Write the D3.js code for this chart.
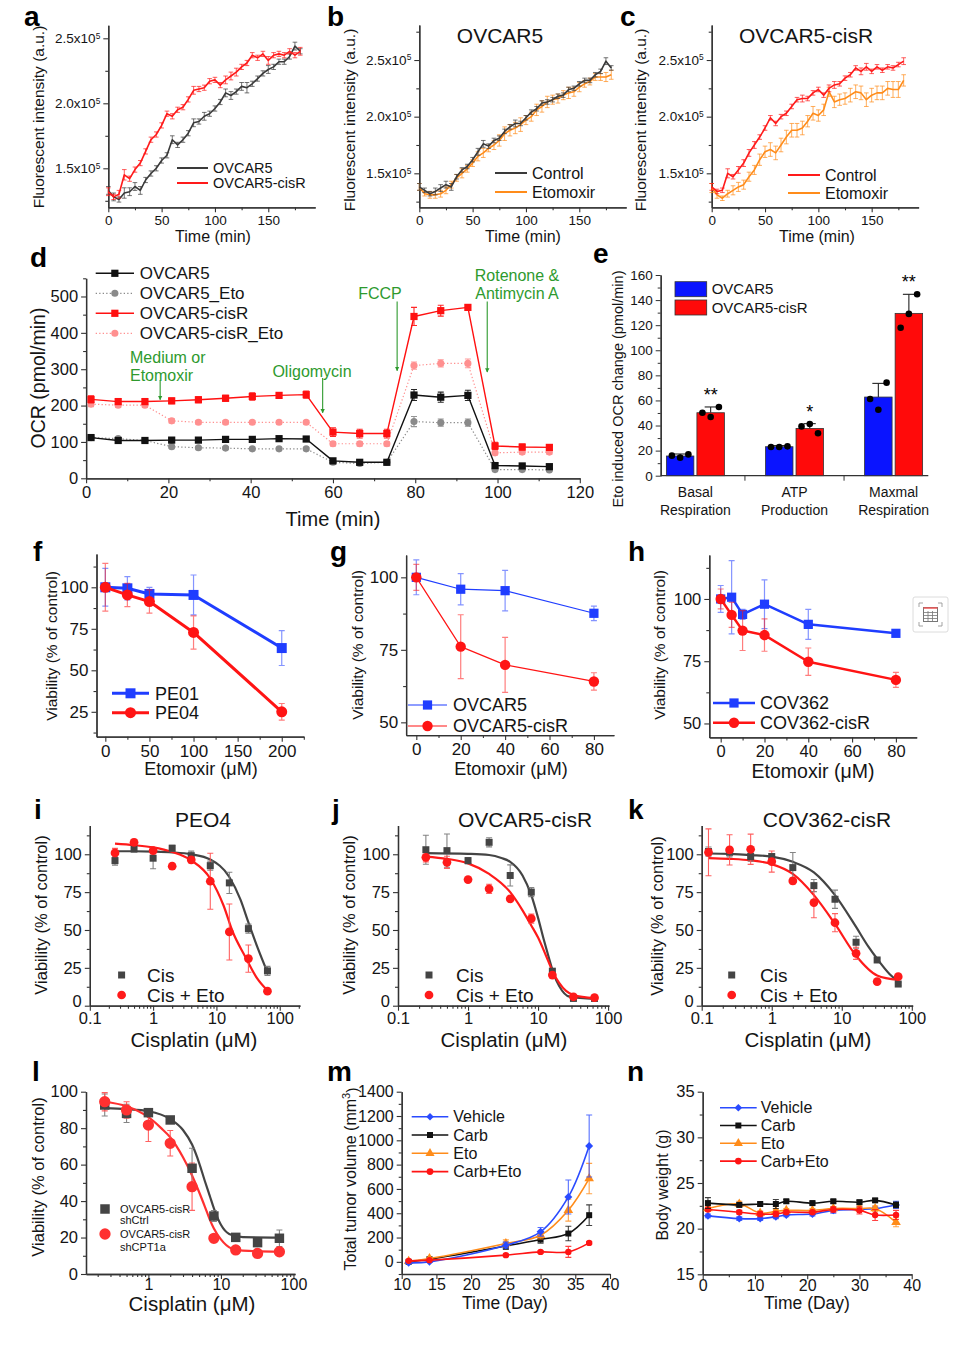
<!DOCTYPE html>
<html>
<head>
<meta charset="utf-8">
<script src="https://cdn.jsdelivr.net/npm/d3@7"></script>
<style>
  body { margin: 0; background: #fff; }
</style>
</head>
<body>
<script>
// ---------- data ----------

// a-c : fluorescence over time, in units of 1e5 a.u.
var fluoTime = [0,5,10,15,20,25,30,35,40,45,50,55,60,65,70,75,80,85,90,95,100,105,110,115,120,125,130,135,140,145,150,155,160,165,170,175,180];
var aOVCAR5 = [1.33,1.28,1.26,1.31,1.32,1.36,1.33,1.41,1.46,1.50,1.56,1.60,1.72,1.68,1.72,1.77,1.85,1.86,1.90,1.92,1.96,2.01,2.08,2.06,2.09,2.13,2.12,2.15,2.19,2.23,2.26,2.28,2.32,2.32,2.36,2.44,2.40];
var aOVCAR5Err = [0.03,0.03,0.02,0.04,0.03,0.03,0.03,0.02,0.02,0.02,0.02,0.02,0.03,0.02,0.02,0.02,0.03,0.02,0.03,0.02,0.02,0.02,0.03,0.03,0.02,0.03,0.04,0.02,0.02,0.02,0.03,0.02,0.02,0.02,0.02,0.03,0.02];
var aCisR = [1.32,1.28,1.30,1.45,1.42,1.49,1.54,1.63,1.72,1.76,1.83,1.92,1.90,1.95,1.97,2.03,2.10,2.11,2.12,2.17,2.18,2.14,2.18,2.21,2.24,2.28,2.31,2.37,2.35,2.38,2.33,2.37,2.38,2.37,2.40,2.37,2.40];
var aCisRErr = [0.03,0.02,0.03,0.04,0.02,0.02,0.02,0.02,0.02,0.02,0.02,0.02,0.02,0.02,0.02,0.02,0.03,0.02,0.02,0.02,0.02,0.02,0.03,0.03,0.03,0.02,0.02,0.02,0.02,0.02,0.03,0.02,0.02,0.02,0.02,0.02,0.03];
var bControl = [1.38,1.35,1.32,1.34,1.37,1.40,1.38,1.47,1.53,1.56,1.62,1.69,1.76,1.74,1.79,1.81,1.87,1.91,1.94,1.94,1.99,2.04,2.07,2.12,2.13,2.15,2.18,2.19,2.24,2.25,2.29,2.32,2.32,2.37,2.40,2.49,2.43];
var bControlErr = [0.03,0.02,0.02,0.03,0.03,0.03,0.03,0.02,0.02,0.02,0.02,0.03,0.03,0.02,0.02,0.02,0.02,0.02,0.03,0.02,0.02,0.02,0.02,0.02,0.02,0.02,0.02,0.02,0.02,0.02,0.02,0.02,0.02,0.02,0.02,0.03,0.02];
var bEto = [1.38,1.32,1.31,1.31,1.32,1.35,1.40,1.46,1.50,1.54,1.59,1.65,1.68,1.72,1.75,1.79,1.85,1.88,1.90,1.93,1.97,2.00,2.06,2.09,2.13,2.15,2.16,2.19,2.21,2.22,2.26,2.29,2.31,2.35,2.35,2.35,2.37];
var bEtoErr = [0.03,0.02,0.03,0.03,0.03,0.03,0.03,0.03,0.04,0.03,0.03,0.04,0.04,0.03,0.04,0.05,0.06,0.05,0.05,0.06,0.04,0.04,0.05,0.05,0.05,0.04,0.04,0.04,0.05,0.04,0.04,0.03,0.03,0.03,0.03,0.04,0.04];
var cControl = [1.38,1.34,1.35,1.50,1.47,1.53,1.59,1.68,1.75,1.82,1.90,1.99,1.94,2.00,2.03,2.09,2.15,2.16,2.16,2.21,2.24,2.19,2.25,2.28,2.29,2.34,2.37,2.43,2.40,2.44,2.40,2.44,2.41,2.44,2.43,2.46,2.49];
var cControlErr = [0.03,0.02,0.02,0.04,0.02,0.03,0.03,0.03,0.03,0.02,0.02,0.02,0.02,0.02,0.02,0.02,0.02,0.03,0.02,0.02,0.02,0.02,0.03,0.03,0.02,0.02,0.02,0.02,0.03,0.03,0.02,0.02,0.02,0.02,0.02,0.02,0.03];
var cEto = [1.37,1.31,1.28,1.32,1.35,1.38,1.40,1.47,1.53,1.62,1.69,1.71,1.68,1.75,1.82,1.88,1.88,1.90,1.96,2.03,2.01,2.06,2.22,2.13,2.15,2.16,2.19,2.22,2.21,2.15,2.19,2.21,2.21,2.25,2.24,2.24,2.32];
var cEtoErr = [0.04,0.03,0.02,0.03,0.04,0.04,0.04,0.04,0.04,0.05,0.05,0.06,0.06,0.06,0.06,0.06,0.06,0.06,0.05,0.06,0.05,0.05,0.04,0.05,0.05,0.05,0.06,0.06,0.06,0.06,0.06,0.06,0.06,0.06,0.07,0.07,0.05];

// d : Seahorse OCR
var dTime = [1.2,7.8,14.3,20.8,27.3,33.9,40.4,46.9,53.5,60.0,66.5,73.1,79.7,86.2,92.8,99.4,106.0,112.6];
var dNames = ["OVCAR5","OVCAR5_Eto","OVCAR5-cisR","OVCAR5-cisR_Eto"];
var dOVCAR5 = [112,104,104,105,105,107,107,109,108,48,44,44,229,223,228,35,34,32];
var dOVCAR5Err = [6,5,5,4,4,4,4,4,5,4,4,4,15,14,14,5,4,4];
var dOVCAR5Eto = [112,109,104,87,84,83,81,81,81,44,41,44,156,153,153,24,24,23];
var dOVCAR5EtoErr = [5,4,4,4,4,4,4,4,4,4,4,4,14,10,10,3,3,3];
var dCisR = [217,211,211,213,216,220,225,228,230,127,123,123,445,461,470,89,86,85];
var dCisRErr = [10,7,7,8,8,8,10,8,10,12,12,12,25,15,8,10,8,8];
var dCisREto = [204,201,201,158,154,154,154,154,154,95,95,95,310,316,316,70,72,72];
var dCisREtoErr = [7,6,6,6,5,5,5,5,5,6,6,6,10,10,12,6,6,6];

// e : Eto induced OCR change
var eGroups = ["Basal Respiration","ATP Production","Maxmal Respiration"];
var eSeries = ["OVCAR5","OVCAR5-cisR"];
var eOVCAR5 = [15.7,23.1,62.7];
var eOVCAR5Err = [1.6,0.9,10.9];
var eOVCAR5Pts = [[16,14.4,17],[22.9,22.9,23.4],[61.1,52.6,74.2]];
var eCisR = [50.2,37.7,129.4];
var eCisRErr = [4.6,3.8,15.2];
var eCisRPts = [[50.2,46.8,54.8],[39.3,41.2,33.8],[118,129,144.6]];
var eStars = ["**","*","**"];

// f-h : viability vs etomoxir
var fConc = [0,25,50,100,200];
var fPE01 = [100,99.4,96,95.4,63.4];
var fPE01Err = [11.4,7,4,12,10.5];
var fPE04 = [100,95.4,91.4,72.8,25];
var fPE04Err = [14.4,7,7,10,5];
var gConc = [0,20,40,80];
var gOVCAR5 = [100,95.9,95.4,87.6];
var gOVCAR5Err = [6,5.4,7,2.5];
var gCisR = [100,76.1,69.8,64.1];
var gCisRErr = [4.5,11,9.5,3];
var hConc = [0,5,10,20,40,80];
var hCOV362 = [100,100.7,93.8,97.9,89.8,86.2];
var hCOV362Err = [5.4,14.7,2,9.8,6,1];
var hCisR = [100,93.6,87.3,85.5,74.8,67.5];
var hCisRErr = [4,5,8,6.5,5.5,3];

// i-l : viability vs cisplatin (points and fitted curves)
var cisConc = [0.25,0.5,1,2,4,8,16,32,64];
var iCis = [95.8,103.5,97.4,104,99.1,92.5,81.1,50.9,23.0];
var iCisErr = [3,2,7,2,3,3,7,3,3];
var iCisEto = [100.9,107.9,102.4,92.1,96.3,82.2,48.7,31.1,9.6];
var iCisEtoErr = [3,2,2,2,2,18.5,18.5,9,1];
var iFitCisX = [0.25,0.5,1,2,4,8,16,24,32,45,64];
var iFitCisY = [102,102,101.8,101.3,100,96.5,85,70,55,38,22];
var iFitEtoX = [0.25,0.5,1,2,4,8,13,18,28,44,64];
var iFitEtoY = [107,106,104.5,101.5,96,84,66,49,33,18,10];

var jCis = [103,102.4,95.8,107.9,86,75,22.8,4.8,4.8];
var jCisErr = [9.6,11,2,3,7,3,1,1,1];
var jCisEto = [98,94.7,83.3,77.2,70.6,57.5,20.2,5.9,5.3];
var jCisEtoErr = [3,4,1,3,1,3,1,1,1];
var jFitCisX = [0.25,1,2,3,4,6,8,10,12,14,17,20,28,64];
var jFitCisY = [100.8,100.3,99.5,97.5,95,86,73,58,44,33,20,13,6,4.5];
var jFitEtoX = [0.25,0.5,1,2,4,6,8,10,13,16,20,32,64];
var jFitEtoY = [98.5,97,94,87,75,63,53,45,33,23,15,7,5];

var kConc = [0.125,0.25,0.5,1,2,4,8,16,32,64];
var kCis = [101.8,101.3,98.5,98.5,91.2,79.3,70.3,41.9,30.2,14.3];
var kCisErr = [3,3,3,2,10,4,6,4,1,1];
var kCisEto = [101.3,102.9,103.3,95.2,82.4,68.1,54.8,34.6,15.9,19.2];
var kCisEtoErr = [15.5,10,10,7,2,10,6,4,1,1];
var kFitCisX = [0.125,0.25,0.5,1,2,4,8,16,24,32,48,64];
var kFitCisY = [100.5,100.2,99.5,98.5,95,88,73,52,39,31,21,16];
var kFitEtoX = [0.125,0.25,0.5,1,2,4,8,16,32,64];
var kFitEtoY = [97.5,97,96,93.5,87,73,54,33,20,17];

var lShCtrl = [92.7,88.1,88.5,84.5,58,31.8,20.1,17.2,19.6];
var lShCtrlErr = [6,5,1,1,11,3,1,2,4.5];
var lShCPT = [94.5,90,81.7,71.7,47.9,19.6,13.2,11.3,12.2];
var lShCPTErr = [5,4.5,9,7,13,2,1,1,1];
var lFitCtrlX = [0.25,0.5,1,2,3,4,5,6,7,8,10,13,20,64];
var lFitCtrlY = [91,90.5,89.3,85,79,71,61,51,43,36,27,22,20.2,20];
var lFitCPTX = [0.25,0.5,1,1.5,2,3,4,5,6,7,8,10,14,20,64];
var lFitCPTY = [94.5,92,86,80,75,64,54,45,37,30,25,19,14,12.8,12.2];

// m : tumor volume, n : body weight
var mDays = [11,14,25,30,34,37];
var mVehicle = [-8,0,137,247,534,953];
var mVehicleErr = [5,5,25,35,140,255];
var mCarb = [0,22,131,184,233,384];
var mCarbErr = [5,5,30,30,60,85];
var mEto = [5,27,151,219,425,685];
var mEtoErr = [3,5,30,30,90,125];
var mCarbEto = [8,14,55,82,82,156];
var mCarbEtoErr = [5,5,10,10,45,10];

var nDays = [1,7,11,14,16,21,25,30,33,37];
var nVehicle = [21.4,21.1,21.1,21.3,21.5,21.6,22.0,22.1,22.2,22.6];
var nVehicleErr = [0.2,0.2,0.2,0.2,0.2,0.2,0.3,0.2,0.2,0.4];
var nCarb = [22.8,22.6,22.7,22.7,23.0,22.8,23.0,22.9,23.1,22.6];
var nCarbErr = [0.6,0.2,0.2,0.5,0.2,0.2,0.2,0.2,0.2,0.3];
var nEto = [22.2,22.7,21.7,21.9,22.0,22.0,22.2,22.2,22.2,20.7];
var nEtoErr = [0.2,0.3,0.2,0.2,0.2,0.2,0.2,0.3,0.3,0.5];
var nCarbEto = [22.1,21.8,21.6,21.6,21.8,21.8,22.1,22.0,21.5,21.5];
var nCarbEtoErr = [0.2,0.2,0.3,0.3,0.2,0.2,0.3,0.4,0.6,0.5];

// ---------- drawing ----------
var FONT = '"Liberation Sans", Arial, Helvetica, sans-serif';
var INK = "#141414";
var DIAMOND = d3.symbolDiamond2 || d3.symbolDiamond;

var svg = d3.select("body").append("svg")
  .attr("width", 970).attr("height", 1348)
  .style("display", "block").style("font-family", FONT);

var defs = svg.append("defs");
defs.append("marker").attr("id", "arrow").attr("viewBox", "0 0 10 10")
  .attr("refX", 9).attr("refY", 5).attr("markerWidth", 4).attr("markerHeight", 5)
  .attr("orient", "auto")
  .append("path").attr("d", "M0,0L10,5L0,10z").attr("fill", "#2e9a2e");

function text(x, y, s, size, anchor, weight, fill) {
  return svg.append("text").attr("x", x).attr("y", y)
    .attr("font-size", size).attr("text-anchor", anchor || "middle")
    .attr("font-weight", weight || "normal").attr("fill", fill || INK).text(s);
}
function vtext(cx, cy, s, size) {
  return svg.append("text").attr("transform", "translate(" + cx + "," + cy + ") rotate(-90)")
    .attr("text-anchor", "middle").attr("dy", "0.35em")
    .attr("font-size", size).attr("fill", INK).text(s);
}
function letter(x, y, s) { text(x, y, s, 28, "start", "bold", "#000"); }

function logMinor(lo, hi) {
  var out = [];
  [0.01, 0.1, 1, 10, 100].forEach(function(dec) {
    for (var k = 2; k <= 9; k++) { var v = k * dec; if (v > lo && v < hi) out.push(v); }
  });
  return out;
}

// axes box: left/right/top/bottom in px, domains, ticks
function frame(o) {
  var x = (o.log ? d3.scaleLog() : d3.scaleLinear()).domain(o.xd).range([o.l, o.r]);
  var y = d3.scaleLinear().domain(o.yd).range([o.b, o.t]);
  var g = svg.append("g");
  var ax = g.append("g");
  if (o.xminor) ax.append("g").attr("transform", "translate(0," + o.b + ")")
    .call(d3.axisBottom(x).tickValues(o.xminor).tickSize(3).tickSizeOuter(0).tickFormat(""));
  if (o.yminor) ax.append("g").attr("transform", "translate(" + o.l + ",0)")
    .call(d3.axisLeft(y).tickValues(o.yminor).tickSize(3).tickSizeOuter(0).tickFormat(""));
  var xa = ax.append("g").attr("transform", "translate(0," + o.b + ")")
    .call(d3.axisBottom(x).tickValues(o.xticks).tickSize(5).tickSizeOuter(0)
      .tickPadding(o.xpad == null ? 3 : o.xpad).tickFormat(o.xfmt || d3.format("~g")));
  var ya = ax.append("g").attr("transform", "translate(" + o.l + ",0)")
    .call(d3.axisLeft(y).tickValues(o.yticks).tickSize(5).tickSizeOuter(0).tickPadding(3)
      .tickFormat(o.yfmt || d3.format("~g")));
  ax.selectAll(".domain").attr("stroke", "#333").attr("stroke-width", 1.3);
  ax.selectAll(".tick line").attr("stroke", "#333").attr("stroke-width", 1.1);
  ax.selectAll("text").attr("font-family", FONT).attr("fill", INK);
  xa.selectAll("text").attr("font-size", o.xfs || o.fs);
  ya.selectAll("text").attr("font-size", o.fs);
  if (o.liftZero) ya.selectAll(".tick").filter(function(d) { return d === o.yd[0]; })
    .select("text").attr("dy", "0.05em");
  return { x: x, y: y, g: g, xa: xa, ya: ya };
}

// "2.5x10^5" style tick labels
function sci(ya) {
  ya.selectAll(".tick text").each(function(d) {
    var t = d3.select(this).text("");
    t.append("tspan").text(d.toFixed(1) + "x10");
    t.append("tspan").attr("dy", "-0.55em").attr("font-size", "0.62em").text("5");
  });
}

function errPath(p, xs, ys, es, cap) {
  return xs.map(function(v, i) {
    var px = p.x(v), a = p.y(ys[i] + es[i]), b = p.y(ys[i] - es[i]);
    return "M" + px + "," + a + "V" + b +
      "M" + (px - cap) + "," + a + "H" + (px + cap) +
      "M" + (px - cap) + "," + b + "H" + (px + cap);
  }).join("");
}

function errors(p, xs, ys, es, color, cap, width, op) {
  p.g.append("path").attr("d", errPath(p, xs, ys, es, cap))
    .attr("fill", "none").attr("stroke", color).attr("stroke-width", width || 1)
    .attr("opacity", op == null ? 1 : op);
}

function line(p, xs, ys, color, width, curve, dash) {
  p.g.append("path").datum(d3.zip(xs, ys))
    .attr("d", d3.line().x(function(d) { return p.x(d[0]); }).y(function(d) { return p.y(d[1]); })
      .curve(curve || d3.curveLinear))
    .attr("fill", "none").attr("stroke", color).attr("stroke-width", width)
    .attr("stroke-dasharray", dash || null).attr("stroke-linejoin", "round");
}

function marks(p, xs, ys, type, size, color) {
  p.g.append("g").selectAll("path").data(d3.zip(xs, ys)).join("path")
    .attr("transform", function(d) { return "translate(" + p.x(d[0]) + "," + p.y(d[1]) + ")"; })
    .attr("d", d3.symbol(type, size)).attr("fill", color);
}

function legendRow(x1, x2, y, tx, label, o) {
  if (o.line !== false) svg.append("line").attr("x1", x1).attr("x2", x2).attr("y1", y).attr("y2", y)
    .attr("stroke", o.color).attr("stroke-width", o.lw || 1.5).attr("stroke-dasharray", o.dash || null);
  if (o.sym) svg.append("path").attr("transform", "translate(" + ((x1 + x2) / 2) + "," + y + ")")
    .attr("d", d3.symbol(o.sym, o.size)).attr("fill", o.color);
  svg.append("text").attr("x", tx).attr("y", y).attr("dy", "0.35em")
    .attr("font-size", o.fs).attr("fill", INK).text(label);
}

// ---------- a, b, c ----------
function trace(p, ys, es, color) {
  errors(p, fluoTime, ys, es, color, 2.3, 1, 0.7);
  line(p, fluoTime, ys, color, 1.6);
}
var BLK = "#3a3a3a", RED = "#ff1a1a", ORG = "#ff8c1a";

var pa = frame({ l: 108.3, r: 315.2, t: 25.3, b: 207.3, xd: [0, 194], yd: [1.2, 2.6],
  xticks: [0, 50, 100, 150], xminor: [25, 75, 125, 175], yticks: [1.5, 2, 2.5], yminor: [1.25, 1.75, 2.25], fs: 13.5 });
sci(pa.ya);
trace(pa, aOVCAR5, aOVCAR5Err, BLK);
trace(pa, aCisR, aCisRErr, RED);
legendRow(177, 208, 168, 213, "OVCAR5", { color: BLK, lw: 2, fs: 14.5 });
legendRow(177, 208, 183, 213, "OVCAR5-cisR", { color: RED, lw: 2, fs: 14.5 });
letter(24, 26, "a");
vtext(39, 117, "Fluorescent intensity (a.u.)", 15.5);
text(213, 242, "Time (min)", 16);

var pb = frame({ l: 419.3, r: 626.2, t: 24.9, b: 207.3, xd: [0, 194], yd: [1.2, 2.81],
  xticks: [0, 50, 100, 150], xminor: [25, 75, 125, 175], yticks: [1.5, 2, 2.5], yminor: [1.25, 1.75, 2.25, 2.75], fs: 13.5 });
sci(pb.ya);
trace(pb, bEto, bEtoErr, ORG);
trace(pb, bControl, bControlErr, BLK);
legendRow(495, 527, 173, 532, "Control", { color: BLK, lw: 2, fs: 16 });
legendRow(495, 527, 192, 532, "Etomoxir", { color: ORG, lw: 2, fs: 16 });
letter(327, 26, "b");
text(500, 43, "OVCAR5", 21);
vtext(350, 120, "Fluorescent intensity (a.u.)", 15.5);
text(523, 242, "Time (min)", 16);

var pc = frame({ l: 711.7, r: 918.6, t: 24.9, b: 207.3, xd: [0, 194], yd: [1.2, 2.81],
  xticks: [0, 50, 100, 150], xminor: [25, 75, 125, 175], yticks: [1.5, 2, 2.5], yminor: [1.25, 1.75, 2.25, 2.75], fs: 13.5 });
sci(pc.ya);
trace(pc, cEto, cEtoErr, ORG);
trace(pc, cControl, cControlErr, RED);
legendRow(788, 820, 175, 825, "Control", { color: RED, lw: 2, fs: 16 });
legendRow(788, 820, 193, 825, "Etomoxir", { color: ORG, lw: 2, fs: 16 });
letter(620, 26, "c");
text(806, 43, "OVCAR5-cisR", 21);
vtext(641, 120, "Fluorescent intensity (a.u.)", 15.5);
text(817, 242, "Time (min)", 16);

// ---------- d ----------
var pd = frame({ l: 86.1, r: 579.8, t: 278.3, b: 478.3, xd: [0, 120], yd: [0, 550],
  xticks: [0, 20, 40, 60, 80, 100, 120], xminor: [10, 30, 50, 70, 90, 110],
  yticks: [0, 100, 200, 300, 400, 500], yminor: [50, 150, 250, 350, 450, 550], fs: 16.5 });
var dStyle = [
  { v: dOVCAR5, e: dOVCAR5Err, c: "#111111", sym: d3.symbolSquare, size: 52, dash: null, lw: 1.4 },
  { v: dOVCAR5Eto, e: dOVCAR5EtoErr, c: "#8a8a8a", sym: d3.symbolCircle, size: 40, dash: "1.3,2.2", lw: 1.2 },
  { v: dCisR, e: dCisRErr, c: "#ff1010", sym: d3.symbolSquare, size: 52, dash: null, lw: 1.4 },
  { v: dCisREto, e: dCisREtoErr, c: "#ff9090", sym: d3.symbolCircle, size: 40, dash: "1.3,2.2", lw: 1.2 }
];
[1, 3, 0, 2].forEach(function(i) {
  var s = dStyle[i];
  line(pd, dTime, s.v, s.c, s.lw, null, s.dash);
  errors(pd, dTime, s.v, s.e, s.c, 3, 1.1, 0.9);
  marks(pd, dTime, s.v, s.sym, s.size, s.c);
});
dNames.forEach(function(nm, i) {
  var s = dStyle[i];
  legendRow(95.7, 134, 273.3 + 20 * i, 139.7, nm, { color: s.c, lw: s.lw, dash: s.dash, sym: s.sym, size: s.size, fs: 17 });
});
var GREEN = "#2e9a2e";
function arrow(t, v1, v2) {
  svg.append("line").attr("x1", pd.x(t)).attr("x2", pd.x(t)).attr("y1", pd.y(v1)).attr("y2", pd.y(v2))
    .attr("stroke", GREEN).attr("stroke-width", 1.1).attr("marker-end", "url(#arrow)");
}
text(130, 362.5, "Medium or", 16, "start", null, GREEN);
text(130, 381, "Etomoxir", 16, "start", null, GREEN);
arrow(18, 270, 216);
text(312, 376.5, "Oligomycin", 16, "middle", null, GREEN);
arrow(57.5, 276, 180);
text(380, 299, "FCCP", 16, "middle", null, GREEN);
arrow(75.6, 486, 296);
text(517, 280.5, "Rotenone &", 16, "middle", null, GREEN);
text(517, 299, "Antimycin A", 16, "middle", null, GREEN);
arrow(97.5, 486, 292);
letter(30, 267, "d");
vtext(38, 378, "OCR (pmol/min)", 19.5);
text(333, 526, "Time (min)", 20);

// ---------- e ----------
var eY = d3.scaleLinear().domain([0, 160]).range([475.7, 275]);
var eX0 = d3.scalePoint().domain(eGroups).range([660.7, 928.3]).padding(0.35);
var eX1 = d3.scaleBand().domain(eSeries).range([-29, 29]).paddingInner(0.1);
var ge = svg.append("g");
ge.append("g").attr("transform", "translate(660.7,0)")
  .call(d3.axisLeft(eY).tickValues([10, 30, 50, 70, 90, 110, 130, 150]).tickSize(3).tickSizeOuter(0).tickFormat(""));
var eyAxis = ge.append("g").attr("transform", "translate(660.7,0)")
  .call(d3.axisLeft(eY).tickValues([0, 20, 40, 60, 80, 100, 120, 140, 160]).tickSize(5).tickSizeOuter(0).tickPadding(3));
ge.append("line").attr("x1", 660.7).attr("x2", 928.3).attr("y1", 475.7).attr("y2", 475.7)
  .attr("stroke", "#333").attr("stroke-width", 1.3);
[0, 1].forEach(function(i) {
  var bx = (eX0(eGroups[i]) + eX0(eGroups[i + 1])) / 2;
  ge.append("line").attr("x1", bx).attr("x2", bx).attr("y1", 475.7).attr("y2", 480.7).attr("stroke", "#333");
});
ge.selectAll(".domain").attr("stroke", "#333").attr("stroke-width", 1.3);
ge.selectAll(".tick line").attr("stroke", "#333");
eyAxis.selectAll("text").attr("font-size", 13.5).attr("font-family", FONT).attr("fill", INK);

var eVals = [eOVCAR5, eCisR], eErrs = [eOVCAR5Err, eCisRErr], ePts = [eOVCAR5Pts, eCisRPts];
var eCols = ["#0a14ff", "#ff0a0a"];
eSeries.forEach(function(s, si) {
  eGroups.forEach(function(gname, gi) {
    var bx = eX0(gname) + eX1(s), bw = eX1.bandwidth(), cx = bx + bw / 2;
    var top = eY(eVals[si][gi] + eErrs[si][gi]);
    ge.append("line").attr("x1", cx).attr("x2", cx).attr("y1", eY(eVals[si][gi])).attr("y2", top)
      .attr("stroke", "#222").attr("stroke-width", 1.1);
    ge.append("line").attr("x1", cx - 6).attr("x2", cx + 6).attr("y1", top).attr("y2", top)
      .attr("stroke", "#222").attr("stroke-width", 1.1);
    ge.append("rect").attr("x", bx).attr("y", eY(eVals[si][gi])).attr("width", bw)
      .attr("height", eY(0) - eY(eVals[si][gi])).attr("fill", eCols[si]).attr("stroke", "#333").attr("stroke-width", 0.8);
    ePts[si][gi].forEach(function(v, k) {
      ge.append("circle").attr("cx", cx + (k - 1) * bw * 0.3).attr("cy", eY(v)).attr("r", 3.3).attr("fill", "#000");
    });
    if (si === 1) text(cx, top - 6, eStars[gi], 18, "middle", "normal", "#000");
  });
  ge.append("rect").attr("x", 675).attr("y", 281.7 + 18.3 * si).attr("width", 31.7).attr("height", 15)
    .attr("fill", eCols[si]).attr("stroke", "#333").attr("stroke-width", 0.8);
  text(711.7, 289.2 + 18.3 * si, s, 15, "start").attr("dy", "0.35em");
});
eGroups.forEach(function(gname) {
  var parts = gname.split(" ");
  text(eX0(gname), 496.5, parts[0], 14);
  text(eX0(gname), 515, parts[1], 14);
});
letter(593, 263, "e");
vtext(618, 389, "Eto induced OCR change (pmol/min)", 14.5);

// ---------- f, g, h ----------
var BLUE = "#1f3dff", RED2 = "#ff1414";
function viab(p, xs, ys, es, color, sym, size, lw) {
  errors(p, xs, ys, es, color, 3, 1.2, 0.55);
  line(p, xs, ys, color, lw);
  marks(p, xs, ys, sym, size, color);
}
var pf = frame({ l: 96.5, r: 303.8, t: 554.1, b: 736.7, xd: [-10, 225], yd: [10, 120],
  xticks: [0, 50, 100, 150, 200], xminor: [25, 75, 125, 175, 225],
  yticks: [25, 50, 75, 100], yminor: [12.5, 37.5, 62.5, 87.5, 112.5], fs: 17 });
viab(pf, fConc, fPE01, fPE01Err, BLUE, d3.symbolSquare, 100, 3);
viab(pf, fConc, fPE04, fPE04Err, RED2, d3.symbolCircle, 95, 3);
legendRow(112, 149, 693.3, 155, "PE01", { color: BLUE, lw: 3, sym: d3.symbolSquare, size: 100, fs: 18 });
legendRow(112, 149, 712.7, 155, "PE04", { color: RED2, lw: 3, sym: d3.symbolCircle, size: 95, fs: 18 });
letter(33, 561, "f");
vtext(52, 646, "Viability (% of control)", 15.5);
text(201, 775, "Etomoxir (\u03bcM)", 18);

var pg = frame({ l: 406.1, r: 613.9, t: 555, b: 735.1, xd: [-4.6, 89], yd: [45.6, 107.7],
  xticks: [0, 20, 40, 60, 80], xminor: [10, 30, 50, 70],
  yticks: [50, 75, 100], yminor: [62.5, 87.5], fs: 17 });
viab(pg, gConc, gOVCAR5, gOVCAR5Err, BLUE, d3.symbolSquare, 85, 1.2);
viab(pg, gConc, gCisR, gCisRErr, RED2, d3.symbolCircle, 85, 1.2);
legendRow(408, 447, 705, 453, "OVCAR5", { color: BLUE, lw: 1.2, sym: d3.symbolSquare, size: 85, fs: 18 });
legendRow(408, 447, 726, 453, "OVCAR5-cisR", { color: RED2, lw: 1.2, sym: d3.symbolCircle, size: 85, fs: 18 });
letter(330, 561, "g");
vtext(358, 645, "Viability (% of control)", 15.5);
text(511, 775, "Etomoxir (\u03bcM)", 18);

var ph = frame({ l: 709.3, r: 916.7, t: 554.9, b: 737.4, xd: [-5.2, 89.5], yd: [44.4, 117.7],
  xticks: [0, 20, 40, 60, 80], xminor: [10, 30, 50, 70],
  yticks: [50, 75, 100], yminor: [62.5, 87.5, 112.5], fs: 16.5 });
viab(ph, hConc, hCOV362, hCOV362Err, BLUE, d3.symbolSquare, 85, 2.5);
viab(ph, hConc, hCisR, hCisRErr, RED2, d3.symbolCircle, 85, 2.5);
legendRow(713, 755, 703, 760, "COV362", { color: BLUE, lw: 2.5, sym: d3.symbolSquare, size: 85, fs: 18 });
legendRow(713, 755, 722.7, 760, "COV362-cisR", { color: RED2, lw: 2.5, sym: d3.symbolCircle, size: 85, fs: 18 });
letter(628, 561, "h");
vtext(660, 645, "Viability (% of control)", 15.5);
text(813, 778, "Etomoxir (\u03bcM)", 19.5);

// small table widget sitting at the right edge of row f-h
var icon = svg.append("g").attr("transform", "translate(913,597)");
icon.append("rect").attr("width", 35).attr("height", 35).attr("rx", 2)
  .attr("fill", "#fff").attr("stroke", "#dcdcdc");
icon.append("rect").attr("x", 10.5).attr("y", 10.5).attr("width", 14).attr("height", 14)
  .attr("fill", "none").attr("stroke", "#777").attr("stroke-width", 1);
icon.append("line").attr("x1", 10.5).attr("x2", 24.5).attr("y1", 11).attr("y2", 11).attr("stroke", "#e55").attr("stroke-width", 1.5);
icon.append("path").attr("d", "M10.5,15.5H24.5M10.5,18.5H24.5M10.5,21.5H24.5M15,14V24.5M19.5,14V24.5")
  .attr("stroke", "#777").attr("stroke-width", 0.8);
icon.append("path").attr("d", "M6,10V6H10M25,6H29V10M29,25V29H25M10,29H6V25")
  .attr("fill", "none").attr("stroke", "#999").attr("stroke-width", 0.9);

// ---------- i, j, k ----------
var DARK = "#444444", RED3 = "#ff1a1a";
function dose(p, xs, cis, cisErr, eto, etoErr, fcx, fcy, fex, fey) {
  line(p, fcx, fcy, DARK, 2.2, d3.curveMonotoneX);
  line(p, fex, fey, RED3, 2.2, d3.curveMonotoneX);
  errors(p, xs, cis, cisErr, "#777", 3, 1.1, 0.9);
  errors(p, xs, eto, etoErr, "#ff5050", 3, 1.1, 0.9);
  marks(p, xs, cis, d3.symbolSquare, 49, DARK);
  marks(p, xs, eto, d3.symbolCircle, 60, RED3);
}
function doseLegend(mx, tx) {
  legendRow(mx, mx, 975, tx, "Cis", { line: false, color: DARK, sym: d3.symbolSquare, size: 49, fs: 19 });
  legendRow(mx, mx, 995, tx, "Cis + Eto", { line: false, color: RED3, sym: d3.symbolCircle, size: 60, fs: 19 });
}
var iy = { yd: [0, 119], yticks: [0, 25, 50, 75, 100], yminor: [12.5, 37.5, 62.5, 87.5, 112.5],
  t: 825.5, b: 1005.7, fs: 16.5, xfs: 16.5, xpad: 2, log: true, liftZero: true };

var pi = frame(Object.assign({ l: 89.8, r: 300, xd: [0.1, 209], xticks: [0.1, 1, 10, 100], xminor: logMinor(0.1, 209) }, iy));
dose(pi, cisConc, iCis, iCisErr, iCisEto, iCisEtoErr, iFitCisX, iFitCisY, iFitEtoX, iFitEtoY);
doseLegend(121.6, 147);
letter(34, 819, "i");
text(203, 827, "PEO4", 21);
vtext(41, 915, "Viability (% of control)", 16.5);
text(194, 1047, "Cisplatin (\u03bcM)", 20.5);

var pj = frame(Object.assign({ l: 398, r: 609, xd: [0.1, 103], xticks: [0.1, 1, 10, 100], xminor: logMinor(0.1, 103) }, iy));
dose(pj, cisConc, jCis, jCisErr, jCisEto, jCisEtoErr, jFitCisX, jFitCisY, jFitEtoX, jFitEtoY);
doseLegend(429, 456);
letter(332, 819, "j");
text(525, 827, "OVCAR5-cisR", 21);
vtext(349, 915, "Viability (% of control)", 16.5);
text(504, 1047, "Cisplatin (\u03bcM)", 20.5);

var pk = frame(Object.assign({ l: 701.7, r: 912.7, xd: [0.1, 103], xticks: [0.1, 1, 10, 100], xminor: logMinor(0.1, 103) }, iy));
dose(pk, kConc, kCis, kCisErr, kCisEto, kCisEtoErr, kFitCisX, kFitCisY, kFitEtoX, kFitEtoY);
doseLegend(731.7, 760);
letter(628, 819, "k");
text(827, 827, "COV362-cisR", 21);
vtext(657, 916, "Viability (% of control)", 16.5);
text(808, 1047, "Cisplatin (\u03bcM)", 20.5);

// ---------- l ----------
var pl = frame({ l: 86, r: 295, t: 1091.7, b: 1274, log: true, xd: [0.138, 105], yd: [0, 100],
  xticks: [1, 10, 100], xminor: logMinor(0.138, 105), xpad: 0, xfs: 16,
  yticks: [0, 20, 40, 60, 80, 100], yminor: [10, 30, 50, 70, 90], fs: 16.5 });
line(pl, lFitCtrlX, lFitCtrlY, DARK, 2.2, d3.curveMonotoneX);
line(pl, lFitCPTX, lFitCPTY, "#ff3030", 2.2, d3.curveMonotoneX);
errors(pl, cisConc, lShCtrl, lShCtrlErr, "#777", 3, 1.1, 0.9);
errors(pl, cisConc, lShCPT, lShCPTErr, "#ff5050", 3, 1.1, 0.9);
marks(pl, cisConc, lShCtrl, d3.symbolSquare, 90, DARK);
marks(pl, cisConc, lShCPT, d3.symbolCircle, 100, "#ff3030");
svg.append("path").attr("transform", "translate(105,1209)").attr("d", d3.symbol(d3.symbolSquare, 90)).attr("fill", DARK);
svg.append("path").attr("transform", "translate(105,1234)").attr("d", d3.symbol(d3.symbolCircle, 100)).attr("fill", "#ff3030");
text(120, 1213, "OVCAR5-cisR", 11, "start");
text(120, 1224, "shCtrl", 11, "start");
text(120, 1238, "OVCAR5-cisR", 11, "start");
text(120, 1251, "shCPT1a", 11, "start");
letter(32, 1081, "l");
vtext(38, 1177, "Viability (% of control)", 16.5);
text(192, 1311, "Cisplatin (\u03bcM)", 20.5);

// ---------- m, n ----------
var VEH = "#2a4bff", CARB = "#111111", ETO = "#ff8c1a", CE = "#ff1414";
var smooth = d3.curveCatmullRom.alpha(0.5);
function grp(p, xs, ys, es, color, sym, size) {
  errors(p, xs, ys, es, color, 3, 1.1, 0.8);
  line(p, xs, ys, color, 1.6, smooth);
  marks(p, xs, ys, sym, size, color);
}
var pm = frame({ l: 401.7, r: 610, t: 1091.7, b: 1274, xd: [10, 40], yd: [-100, 1400],
  xticks: [10, 15, 20, 25, 30, 35, 40], xpad: 0, xfs: 16,
  yticks: [0, 200, 400, 600, 800, 1000, 1200, 1400], yminor: [-100, 100, 300, 500, 700, 900, 1100, 1300], fs: 16 });
grp(pm, mDays, mCarb, mCarbErr, CARB, d3.symbolSquare, 36);
grp(pm, mDays, mEto, mEtoErr, ETO, d3.symbolTriangle, 40);
grp(pm, mDays, mVehicle, mVehicleErr, VEH, DIAMOND, 40);
grp(pm, mDays, mCarbEto, mCarbEtoErr, CE, d3.symbolCircle, 32);
var mLeg = [["Vehicle", VEH, DIAMOND], ["Carb", CARB, d3.symbolSquare], ["Eto", ETO, d3.symbolTriangle], ["Carb+Eto", CE, d3.symbolCircle]];
mLeg.forEach(function(r, i) {
  legendRow(411.7, 448.3, 1116.7 + 18.3 * i, 453.3, r[0], { color: r[1], lw: 1.6, sym: r[2], size: 36, fs: 16 });
});
letter(327, 1081, "m");
var mt = svg.append("text").attr("transform", "translate(350,1179) rotate(-90)")
  .attr("text-anchor", "middle").attr("dy", "0.35em").attr("font-size", 16).attr("fill", INK);
mt.append("tspan").text("Total tumor volume (mm");
mt.append("tspan").attr("dy", "-0.5em").attr("font-size", 11).text("3");
mt.append("tspan").attr("dy", "0.5em").text(")");
text(505, 1309, "Time (Day)", 17.5);

var pn = frame({ l: 702.7, r: 911.7, t: 1091.7, b: 1274.3, xd: [0, 40], yd: [15, 35],
  xticks: [0, 10, 20, 30, 40], xminor: [5, 15, 25, 35], xpad: 0, xfs: 16,
  yticks: [15, 20, 25, 30, 35], yminor: [17.5, 22.5, 27.5, 32.5], fs: 16.5 });
grp(pn, nDays, nVehicle, nVehicleErr, VEH, DIAMOND, 40);
grp(pn, nDays, nEto, nEtoErr, ETO, d3.symbolTriangle, 40);
grp(pn, nDays, nCarbEto, nCarbEtoErr, CE, d3.symbolCircle, 32);
grp(pn, nDays, nCarb, nCarbErr, CARB, d3.symbolSquare, 36);
mLeg.forEach(function(r, i) {
  legendRow(720, 756.7, 1107.7 + 17.8 * i, 760.7, r[0], { color: r[1], lw: 1.6, sym: r[2], size: 36, fs: 16 });
});
letter(627, 1081, "n");
vtext(662, 1185, "Body weight (g)", 16);
text(807, 1309, "Time (Day)", 17.5);
</script>
</body>
</html>
